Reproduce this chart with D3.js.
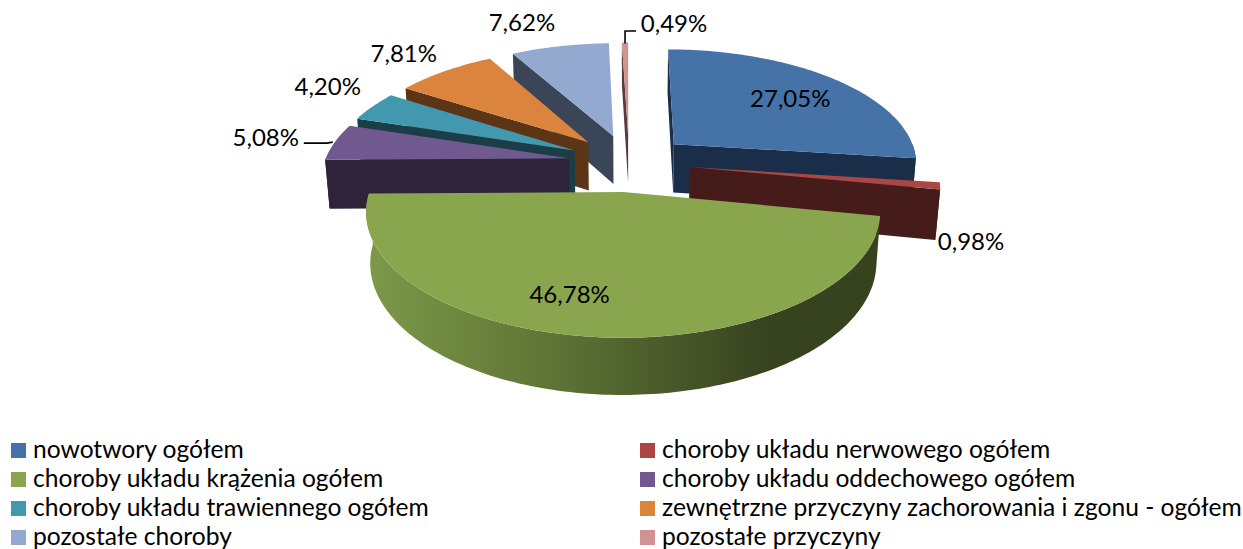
<!DOCTYPE html>
<html>
<head>
<meta charset="utf-8">
<script src="https://cdn.jsdelivr.net/npm/d3@7"></script>
<style>
  html, body { margin: 0; background: #fff; }
  text { font-family: Lato, "Open Sans", sans-serif; fill: #000; }
</style>
</head>
<body>
<script>
// chart values
const categories = ['nowotwory ogółem', 'choroby układu nerwowego ogółem',
  'choroby układu krążenia ogółem', 'choroby układu oddechowego ogółem',
  'choroby układu trawiennego ogółem', 'zewnętrzne przyczyny zachorowania i zgonu - ogółem',
  'pozostałe choroby', 'pozostałe przyczyny']
const values = [27.05, 0.98, 46.78, 5.08, 4.20, 7.81, 7.62, 0.49]

// top face and wall colours
const topColors = ['#4572a7', '#aa4643', '#89a54e', '#71588f', '#4198af', '#db843d', '#93a9cf', '#d19392']
const wallColors = ['#1b2e49', '#451c1a', '#37421f', '#2e2339', '#1a3d47', '#5c3517', '#3a4558', '#553b3b']

// label nudges from the middle of each outer edge
const labelNudge = [[-43, 18.5], [31, 55], [-26, -43.5], [-69, -5.5], [-45, -20.5], [-41, -18.5], [-38, -24.5], [49, -20.5]]

const width = 1243
const height = 549

// fake 3d: unit disc seen from above with some perspective
const cx = 629, cy = 162.5
const radiusX = 244.5, radiusY = 114
const depth = 50
const persp = 0.15      // far side shrinks
const perspZ = 0.015    // bottom shrinks a little too
const explode = 0.25

function project(u, v, z) {
  const w = 1 - persp * v + perspZ * z
  return [cx + radiusX * u / w, cy + (radiusY * v + depth * z) / w]
}

// a is clockwise from the top, like d3.pie
function rim(s, a, z) {
  return project(s.ou + Math.sin(a), s.ov - Math.cos(a), z)
}

const slices = d3.pie().sort(null).value(d => d)(values).map(function (d, i) {
  const mid = (d.startAngle + d.endAngle) / 2
  return {
    i: i, a0: d.startAngle, a1: d.endAngle, mid: mid,
    ou: explode * Math.sin(mid), ov: -explode * Math.cos(mid)
  }
})

const svg = d3.select('body').append('svg')
  .attr('width', width)
  .attr('height', height)
  .style('display', 'block')

const line = d3.line()

function arcPoints(s, a0, a1, z) {
  const n = Math.max(2, Math.ceil((a1 - a0) / 0.02))
  return d3.range(n + 1).map(k => rim(s, a0 + (a1 - a0) * k / n, z))
}

function area(p) {
  return d3.sum(p, (q, k) => {
    const r = p[(k + 1) % p.length]
    return q[0] * r[1] - r[0] * q[1]
  })
}

// green wall gets the horizontal shade
const gradX = d3.scaleLinear().domain([0, 1]).range([366, 770])
const grad = svg.append('defs').append('linearGradient')
  .attr('id', 'greenWall')
  .attr('gradientUnits', 'userSpaceOnUse')
  .attr('x1', gradX(0)).attr('x2', gradX(1))
  .attr('y1', 0).attr('y2', 0)
grad.append('stop').attr('offset', 0).attr('stop-color', '#7d9949')
grad.append('stop').attr('offset', 0.45).attr('stop-color', '#5f7536')
grad.append('stop').attr('offset', 1).attr('stop-color', '#37421f')

// back to front
const order = slices.slice().sort((a, b) => a.ov - b.ov)

order.forEach(function (s) {
  const g = svg.append('g')
  const fill = s.i === 2 ? 'url(#greenWall)' : wallColors[s.i]
  const at = project(s.ou, s.ov, 0)
  const ab = project(s.ou, s.ov, 1)

  // radial walls, only the ones that face us
  const wall0 = [at, rim(s, s.a0, 0), rim(s, s.a0, 1), ab]
  const wall1 = [at, rim(s, s.a1, 0), rim(s, s.a1, 1), ab]
  if (area(wall0) < 0) g.append('path').attr('d', line(wall0) + 'Z').attr('fill', wallColors[s.i])
  if (area(wall1) > 0) g.append('path').attr('d', line(wall1) + 'Z').attr('fill', wallColors[s.i])

  // outer wall on the near half
  const from = Math.max(s.a0, Math.PI / 2)
  const to = Math.min(s.a1, Math.PI * 1.5)
  if (to > from) {
    const outer = arcPoints(s, from, to, 0).concat(arcPoints(s, from, to, 1).reverse())
    g.append('path').attr('d', line(outer) + 'Z').attr('fill', fill)
  }

  // top face
  const face = [at].concat(arcPoints(s, s.a0, s.a1, 0))
  g.append('path').attr('d', line(face) + 'Z').attr('fill', topColors[s.i])
})

// data labels
const labelFormat = v => v.toFixed(2).replace('.', ',') + '%'
slices.forEach(function (s) {
  const p = rim(s, s.mid, 0)
  svg.append('text')
    .attr('x', p[0] + labelNudge[s.i][0])
    .attr('y', p[1] + labelNudge[s.i][1])
    .attr('text-anchor', 'middle')
    .attr('dominant-baseline', 'central')
    .attr('font-size', 24)
    .text(labelFormat(values[s.i]))
})

// leader lines for the two small ones
const purple = rim(slices[3], slices[3].mid, 0)
svg.append('path')
  .attr('d', line([[purple[0] - 31, purple[1] + 1], [purple[0] - 8, purple[1] + 1], [purple[0] - 2, purple[1]]]))
  .attr('fill', 'none').attr('stroke', '#000').attr('stroke-width', 1.6)
const pink = rim(slices[7], slices[7].mid, 0)
svg.append('path')
  .attr('d', line([[pink[0], pink[1] + 1], [pink[0], pink[1] - 11.5], [pink[0] + 11, pink[1] - 11.5]]))
  .attr('fill', 'none').attr('stroke', '#000').attr('stroke-width', 1.6)

// legend, two columns, reading across
const legendRow = d3.scalePoint().domain([0, 1, 2, 3]).range([450.5, 537.5])
const legendCol = d3.scalePoint().domain([0, 1]).range([11, 640])
const legend = svg.selectAll('.legend')
  .data(categories)
  .enter().append('g')
  .attr('class', 'legend')
  .attr('transform', (d, i) => 'translate(' + legendCol(i % 2) + ',' + legendRow(Math.floor(i / 2)) + ')')
legend.append('rect')
  .attr('y', -7.5)
  .attr('width', 15)
  .attr('height', 15)
  .attr('fill', (d, i) => topColors[i])
legend.append('text')
  .attr('x', 22)
  .attr('y', -2)
  .attr('dominant-baseline', 'central')
  .attr('font-size', 24.6)
  .text(d => d)
</script>
</body>
</html>
